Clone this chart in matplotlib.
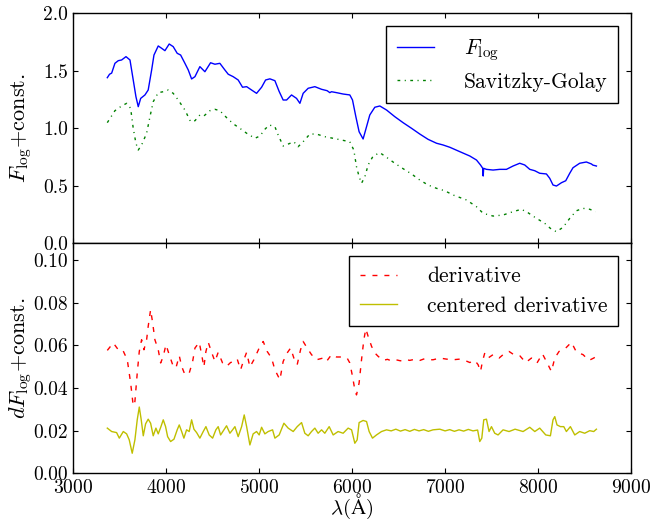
import numpy as np
import matplotlib.pyplot as plt

plt.rcParams['font.family'] = 'cmr10'
plt.rcParams['mathtext.fontset'] = 'cm'
plt.rcParams['axes.formatter.use_mathtext'] = True

# log flux spectrum
wl_flux = [3366, 3390, 3413, 3448, 3484, 3520, 3567, 3610, 3645, 3674, 3699, 3725, 3771,
           3806, 3843, 3868, 3914, 3950, 3986, 4032, 4075, 4118, 4155, 4201, 4237, 4273,
           4309, 4362, 4416, 4477, 4524, 4577, 4631, 4667, 4720, 4774, 4821, 4865, 4918,
           4972, 5026, 5069, 5115, 5169, 5215, 5258, 5295, 5348, 5402, 5438, 5473, 5527,
           5599, 5671, 5731, 5760, 5778, 5832, 5903, 5975, 6004, 6040, 6075, 6118, 6155,
           6190, 6244, 6298, 6370, 6459, 6548, 6639, 6728, 6817, 6908, 6978, 7051, 7158,
           7266, 7338, 7381, 7405, 7410, 7415, 7445, 7516, 7588, 7660, 7731, 7803, 7857,
           7911, 7965, 8018, 8090, 8126, 8161, 8198, 8252, 8298, 8341, 8376, 8448, 8520,
           8574, 8590, 8628]
flux = [1.44, 1.47, 1.48, 1.565, 1.588, 1.594, 1.623, 1.594, 1.42, 1.275, 1.188, 1.26, 1.29,
        1.333, 1.507, 1.637, 1.716, 1.696, 1.675, 1.733, 1.71, 1.652, 1.637, 1.565, 1.507, 1.429,
        1.449, 1.536, 1.492, 1.57, 1.557, 1.565, 1.507, 1.47, 1.449, 1.42, 1.357, 1.362, 1.333,
        1.304, 1.357, 1.42, 1.43, 1.414, 1.32, 1.246, 1.246, 1.29, 1.26, 1.217, 1.304, 1.348,
        1.362, 1.339, 1.327, 1.31, 1.318, 1.31, 1.298, 1.29, 1.246, 1.101, 0.97, 0.907, 1.014,
        1.116, 1.183, 1.194, 1.159, 1.101, 1.049, 1.0, 0.95, 0.904, 0.87, 0.855, 0.835, 0.797,
        0.759, 0.724, 0.681, 0.652, 0.585, 0.652, 0.643, 0.637, 0.643, 0.643, 0.672, 0.696, 0.681,
        0.643, 0.631, 0.609, 0.603, 0.565, 0.507, 0.498, 0.527, 0.544, 0.609, 0.657, 0.696, 0.707,
        0.69, 0.68, 0.672]

# Savitzky-Golay smoothed spectrum (shifted down)
wl_sg = [3366, 3448, 3520, 3574, 3617, 3645, 3674, 3699, 3735, 3789, 3825, 3860, 3914,
         3968, 4022, 4075, 4129, 4201, 4262, 4309, 4362, 4405, 4470, 4524, 4577, 4667,
         4739, 4792, 4865, 4954, 5008, 5061, 5108, 5169, 5204, 5258, 5312, 5373, 5419,
         5473, 5545, 5617, 5706, 5796, 5886, 5975, 6018, 6047, 6075, 6101, 6137, 6172,
         6226, 6298, 6370, 6459, 6548, 6639, 6728, 6817, 6908, 6997, 7086, 7230, 7338,
         7409, 7516, 7624, 7731, 7821, 7892, 7983, 8072, 8144, 8198, 8269, 8341, 8413,
         8484, 8556, 8620]
sg = [1.049, 1.153, 1.194, 1.217, 1.174, 1.0, 0.87, 0.811, 0.855, 0.957, 1.101, 1.231, 1.31,
      1.318, 1.333, 1.304, 1.246, 1.159, 1.058, 1.066, 1.116, 1.107, 1.153, 1.165, 1.153, 1.078,
      1.029, 1.0, 0.957, 0.913, 0.933, 0.991, 1.029, 1.014, 0.942, 0.846, 0.863, 0.883, 0.84,
      0.883, 0.95, 0.95, 0.927, 0.913, 0.898, 0.883, 0.811, 0.666, 0.579, 0.522, 0.579, 0.681,
      0.759, 0.788, 0.748, 0.696, 0.649, 0.603, 0.55, 0.507, 0.478, 0.457, 0.42, 0.377, 0.318,
      0.261, 0.237, 0.246, 0.275, 0.296, 0.266, 0.217, 0.174, 0.122, 0.101, 0.139, 0.217, 0.283,
      0.304, 0.296, 0.275]

# forward derivative
wl_der = [3366, 3430, 3484, 3531, 3581, 3617, 3645, 3663, 3688, 3710, 3735, 3760, 3789,
          3806, 3832, 3854, 3878, 3914, 3940, 3968, 3997, 4032, 4069, 4104, 4140, 4166,
          4201, 4247, 4284, 4309, 4355, 4381, 4405, 4427, 4452, 4488, 4524, 4559, 4606,
          4649, 4692, 4728, 4763, 4800, 4835, 4865, 4900, 4943, 5000, 5043, 5086, 5133,
          5169, 5223, 5258, 5301, 5338, 5373, 5409, 5445, 5473, 5516, 5563, 5617, 5688,
          5724, 5778, 5832, 5886, 5946, 5975, 6004, 6029, 6047, 6075, 6101, 6126, 6147,
          6172, 6209, 6244, 6280, 6333, 6380, 6420, 6470, 6520, 6570, 6620, 6680, 6730,
          6780, 6830, 6871, 6943, 7015, 7086, 7158, 7212, 7266, 7319, 7355, 7381, 7402,
          7427, 7462, 7516, 7581, 7624, 7688, 7739, 7803, 7868, 7929, 7989, 8047, 8090,
          8144, 8180, 8226, 8298, 8359, 8413, 8484, 8548, 8599, 8628]
der = [0.0577, 0.0612, 0.058, 0.058, 0.0533, 0.0424, 0.0317, 0.0337, 0.047, 0.0572, 0.0627,
       0.058, 0.0627, 0.069, 0.0768, 0.0706, 0.0627, 0.058, 0.0518, 0.0549, 0.0604, 0.0557,
       0.051, 0.0494, 0.0552, 0.0502, 0.0463, 0.047, 0.0525, 0.0588, 0.0615, 0.0557, 0.0499,
       0.0572, 0.0615, 0.0568, 0.0525, 0.0568, 0.0518, 0.0502, 0.052, 0.0525, 0.0537, 0.0486,
       0.0533, 0.0568, 0.0499, 0.0533, 0.0588, 0.0619, 0.0572, 0.0541, 0.0486, 0.0439, 0.0525,
       0.0565, 0.0588, 0.0541, 0.051, 0.058, 0.0619, 0.0588, 0.0557, 0.0533, 0.0541, 0.0525,
       0.0557, 0.0546, 0.0546, 0.0541, 0.0518, 0.0455, 0.0392, 0.0368, 0.0424, 0.0533, 0.0627,
       0.0678, 0.0643, 0.0596, 0.0565, 0.0549, 0.053, 0.0535, 0.0528, 0.0533, 0.0528, 0.0535,
       0.053, 0.0536, 0.053, 0.0538, 0.0533, 0.0533, 0.0541, 0.0536, 0.0533, 0.0536, 0.053,
       0.052, 0.053, 0.051, 0.0478, 0.0525, 0.0565, 0.0541, 0.0557, 0.0541, 0.0557, 0.0572,
       0.0557, 0.0552, 0.052, 0.0541, 0.0518, 0.0561, 0.0525, 0.0478, 0.0541, 0.0572, 0.0588,
       0.0615, 0.0569, 0.0557, 0.053, 0.0541, 0.0549]

# centered derivative
wl_cder = [3366, 3413, 3466, 3495, 3538, 3574, 3602, 3634, 3663, 3688, 3710, 3731, 3753,
           3778, 3806, 3832, 3860, 3889, 3914, 3943, 3968, 3993, 4015, 4047, 4083, 4118,
           4140, 4166, 4190, 4219, 4247, 4273, 4298, 4327, 4362, 4398, 4427, 4462, 4499,
           4534, 4559, 4585, 4620, 4649, 4685, 4714, 4739, 4774, 4811, 4839, 4865, 4900,
           4935, 4972, 5000, 5026, 5061, 5097, 5144, 5169, 5215, 5266, 5312, 5366, 5409,
           5456, 5491, 5527, 5563, 5599, 5634, 5671, 5706, 5753, 5796, 5849, 5903, 5957,
           5994, 6029, 6054, 6075, 6118, 6155, 6183, 6219, 6262, 6316, 6370, 6420, 6470,
           6520, 6570, 6620, 6670, 6720, 6770, 6820, 6870, 6943, 7000, 7050, 7100, 7150,
           7200, 7250, 7300, 7350, 7373, 7395, 7416, 7445, 7473, 7499, 7534, 7570, 7624,
           7688, 7753, 7839, 7911, 7965, 8018, 8083, 8133, 8161, 8180, 8204, 8241, 8277,
           8305, 8348, 8395, 8448, 8502, 8556, 8599, 8628]
cder = [0.0212, 0.0196, 0.0191, 0.0165, 0.0196, 0.0185, 0.0157, 0.0094, 0.0157, 0.0251,
        0.0311, 0.0251, 0.0176, 0.0232, 0.0254, 0.0235, 0.0176, 0.0212, 0.0185, 0.0219,
        0.0251, 0.0219, 0.0172, 0.0149, 0.016, 0.0204, 0.0227, 0.0196, 0.0165, 0.0204,
        0.0196, 0.0251, 0.0207, 0.0191, 0.0165, 0.0196, 0.0219, 0.018, 0.0165, 0.0204,
        0.0219, 0.018, 0.0204, 0.0223, 0.0188, 0.0204, 0.0219, 0.0172, 0.0219, 0.0274,
        0.0219, 0.0133, 0.0185, 0.0196, 0.018, 0.0216, 0.0185, 0.0196, 0.0204, 0.0165,
        0.018, 0.0235, 0.0212, 0.0196, 0.0219, 0.0238, 0.0188, 0.0176, 0.0196, 0.0212,
        0.0188, 0.0204, 0.0188, 0.0219, 0.018, 0.0196, 0.0188, 0.0212, 0.0204, 0.0141,
        0.0157, 0.0238, 0.0248, 0.0243, 0.0196, 0.0165, 0.018, 0.0196, 0.0204, 0.0199,
        0.0207, 0.0198, 0.0205, 0.0197, 0.0206, 0.0199, 0.0205, 0.0197, 0.0204, 0.0207,
        0.0199, 0.0205, 0.0197, 0.0204, 0.0198, 0.0206, 0.0199, 0.0203, 0.0149, 0.0165,
        0.0251, 0.0254, 0.0196, 0.0219, 0.0188, 0.018, 0.0204, 0.0196, 0.0207, 0.0196,
        0.0216, 0.0196, 0.0212, 0.018, 0.0176, 0.0251, 0.0266, 0.0227, 0.0219, 0.0219,
        0.0196, 0.0219, 0.018, 0.0196, 0.0188, 0.02, 0.0196, 0.0207]

fig = plt.figure(figsize=(6.59, 5.19), dpi=100)
ax1 = fig.add_axes([0.1112, 0.5312, 0.8463, 0.4432])
ax2 = fig.add_axes([0.1112, 0.0881, 0.8463, 0.4432], sharex=ax1)

ax1.plot(wl_flux, flux, color='b', lw=1.0, label=r'$F_{\rm log}$')
ax1.plot(wl_sg, sg, color='g', lw=1.0, dashes=(2.0, 3.2, 0.8, 3.2), label='Savitzky-Golay')
ax2.plot(wl_der, der, color='r', lw=1.0, dashes=(3.6, 5.0), label='derivative')
ax2.plot(wl_cder, cder, color='y', lw=1.0, label='centered derivative')

ax1.set_xlim(3000, 9000)
ax1.set_ylim(0, 2.0)
ax1.set_yticks([0.0, 0.5, 1.0, 1.5, 2.0])
ax2.set_ylim(0, 0.108)
ax2.set_yticks([0.0, 0.02, 0.04, 0.06, 0.08, 0.10])
ax2.set_xticks([3000, 4000, 5000, 6000, 7000, 8000, 9000])
ax1.yaxis.set_major_formatter(plt.FormatStrFormatter('%.1f'))
ax2.yaxis.set_major_formatter(plt.FormatStrFormatter('%.2f'))
plt.setp(ax1.get_xticklabels(), visible=False)

for ax in (ax1, ax2):
    ax.tick_params(direction='in', top=True, right=True, length=3.6, width=0.8,
                   labelsize=14, pad=4)
    for s in ax.spines.values():
        s.set_linewidth(1.0)
    leg = ax.legend(loc='upper right', fontsize=15.5, fancybox=False, framealpha=1,
                    handlelength=1.7, borderaxespad=0.6, labelspacing=0.45,
                    handletextpad=1.4, borderpad=0.5)
    leg.get_frame().set_edgecolor('black')
    leg.get_frame().set_linewidth(1.0)

ax1.set_ylabel(r'$F_{\rm log}$+const.', fontsize=16)
ax2.set_ylabel(r'$dF_{\rm log}$+const.', fontsize=16)
ax2.set_xlabel(r'$\lambda$($\mathrm{\AA}$)', fontsize=15, labelpad=-3.5)
ax1.yaxis.set_label_coords(-0.07, 0.5)
ax2.yaxis.set_label_coords(-0.07, 0.5)

fig.savefig('out.png', dpi=100)
